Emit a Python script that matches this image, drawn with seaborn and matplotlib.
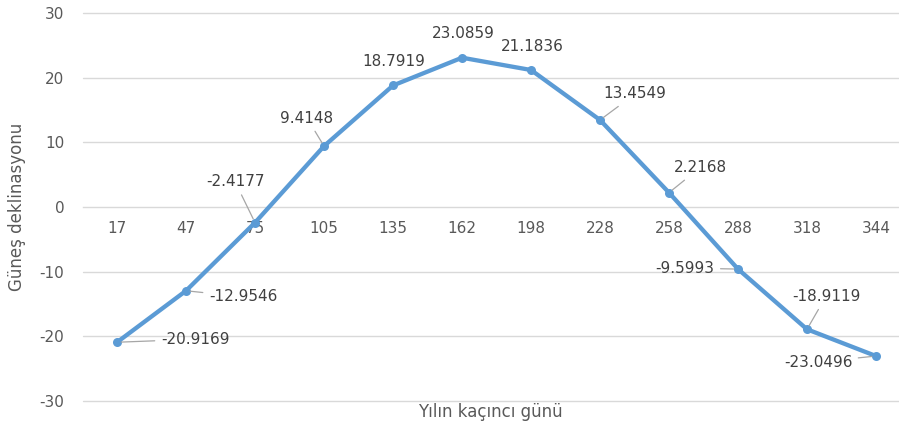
import matplotlib
matplotlib.use("Agg")
import matplotlib.pyplot as plt
import seaborn as sns
import pandas as pd

days = ["17", "47", "75", "105", "135", "162", "198", "228", "258", "288", "318", "344"]
declination = [-20.9169, -12.9546, -2.4177, 9.4148, 18.7919, 23.0859, 21.1836,
               13.4549, 2.2168, -9.5993, -18.9119, -23.0496]
value_labels = ["-20.9169", "-12.9546", "-2.4177", "9.4148", "18.7919", "23.0859",
                "21.1836", "13.4549", "2.2168", "-9.5993", "-18.9119", "-23.0496"]
yticks = [-30, -20, -10, 0, 10, 20, 30]

sns.set_theme(style="white")
plt.rcParams['font.family'] = ['DejaVu Sans']

df = pd.DataFrame({"pos": range(len(days)), "val": declination})

fig = plt.figure(figsize=(8.99, 4.29), dpi=100)
ax = fig.add_axes([0.0918, 0.0653, 0.921, 0.9044])

for y in yticks:
    if y != 0:
        ax.axhline(y, color="#D9D9D9", lw=1.0, zorder=0, clip_on=False)

sns.lineplot(data=df, x="pos", y="val", ax=ax, color="#5B9BD5", linewidth=3.1,
             marker="o", markersize=6.5, markeredgewidth=0, zorder=3)

ax.set_xlim(-0.5, len(days) - 0.5)
ax.set_ylim(-30, 30)
ax.set_yticks(yticks)
ax.set_yticklabels([str(v) for v in yticks])
ax.set_xticks(range(len(days)))
ax.set_xticklabels(days)

for s in ["top", "right", "left"]:
    ax.spines[s].set_visible(False)
ax.spines["bottom"].set_position(("data", 0))
ax.spines["bottom"].set_color("#D9D9D9")
ax.spines["bottom"].set_linewidth(1.0)
ax.spines["bottom"].set_zorder(0)

ax.tick_params(axis="x", length=0, pad=10, labelsize=11, labelcolor="#595959")
ax.tick_params(axis="y", length=0, pad=13, labelsize=11, labelcolor="#595959")

ax.set_xlabel("")
ax.set_ylabel("")
fig.text(0.019, 0.517, "Güneş deklinasyonu", rotation=90, ha="center", va="center",
         fontsize=12, color="#595959")
fig.text(0.545, 0.040, "Yılın kaçıncı günü", ha="center", va="center",
         fontsize=12, color="#595959")

# label offsets in pixels (dx, dy), with leader flag
offsets = [(78, 3, True), (57, -6, True), (-20, 41, True), (-17, 28, True),
           (1, 24, False), (1, 24, False), (1, 24, False), (35, 26, True),
           (31, 25, True), (-53, 1, True), (19, 33, True), (-58, -6, True)]

for i, (v, lab) in enumerate(zip(declination, value_labels)):
    dx, dy, leader = offsets[i]
    kw = {}
    if leader:
        kw["arrowprops"] = dict(arrowstyle="-", color="#A6A6A6", lw=0.9,
                                shrinkA=2, shrinkB=3)
    ax.annotate(lab, xy=(i, v), xytext=(dx, dy), textcoords="offset pixels",
                ha="center", va="center", fontsize=11, color="#404040",
                zorder=4, **kw)

fig.savefig("out.png", dpi=100)
